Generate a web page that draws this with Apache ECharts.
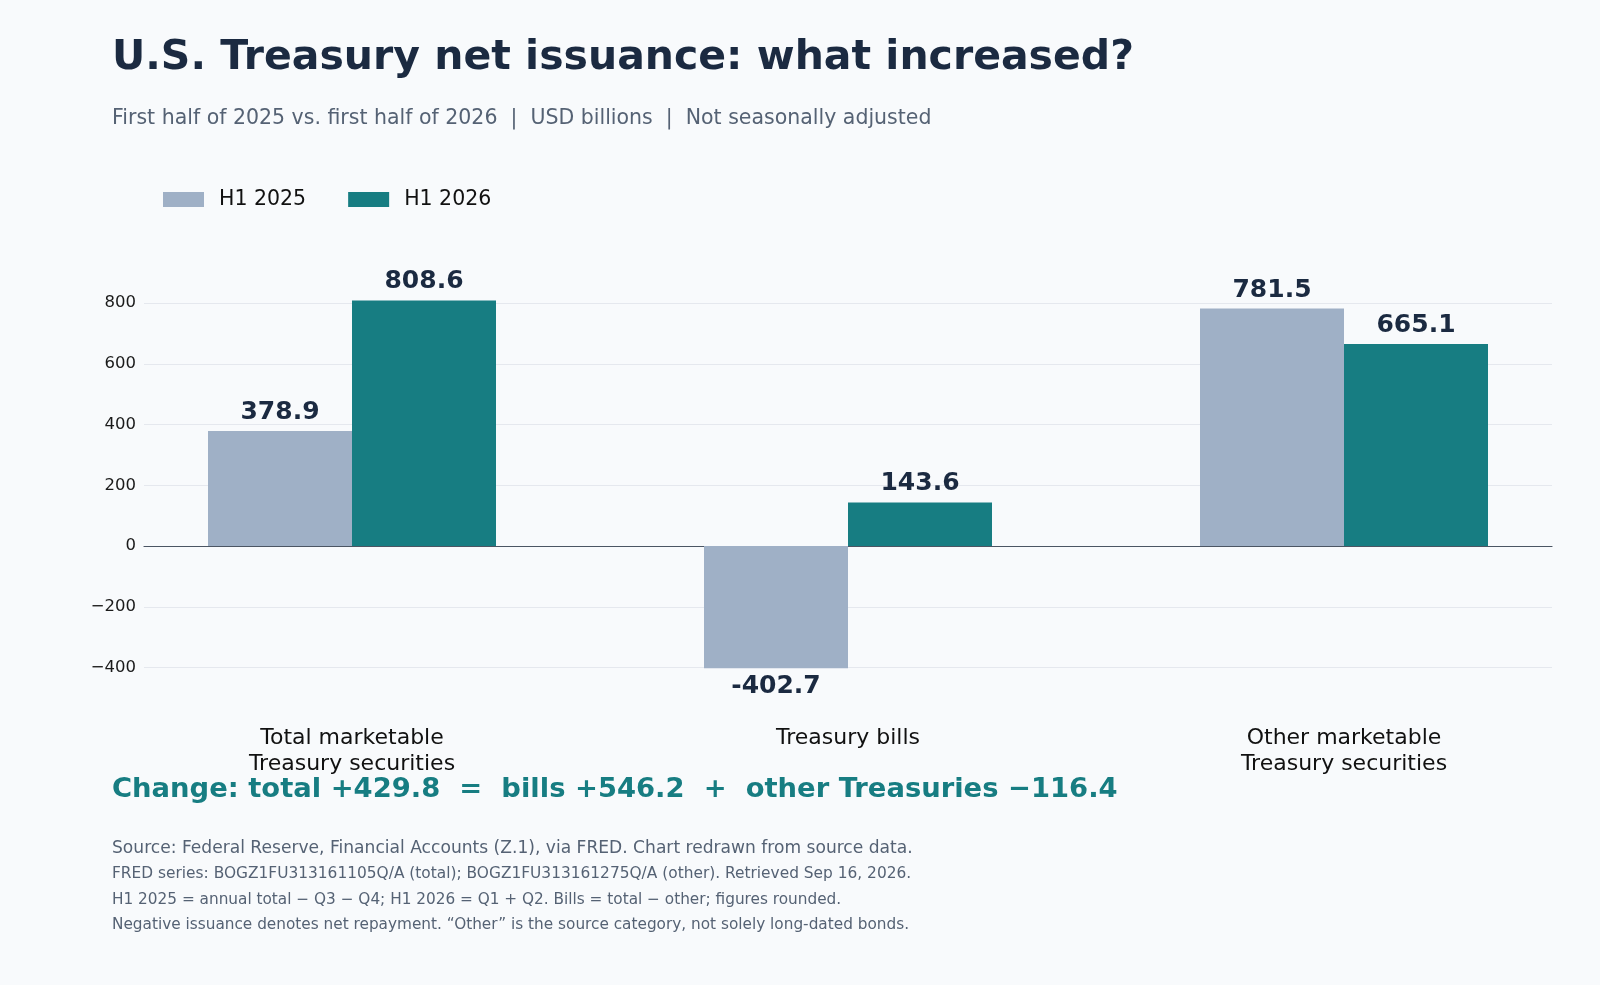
<!DOCTYPE html>
<html>
<head>
<meta charset="utf-8">
<title>U.S. Treasury net issuance</title>
<script src="https://cdn.jsdelivr.net/npm/echarts@6/dist/echarts.min.js"></script>
<style>
  html, body { margin: 0; padding: 0; background: #f8fafc; }
  #chart { width: 1600px; height: 985px; }
</style>
</head>
<body>
<div id="chart"></div>
<script>
// data (USD billions)
const categories = ['Total marketable\nTreasury securities', 'Treasury bills', 'Other marketable\nTreasury securities'];
const h1_2025 = [378.9, -402.7, 781.5];
const h1_2026 = [808.6, 143.6, 665.1];
const seriesNames = ['H1 2025', 'H1 2026'];
const yTicks = { min: -400, max: 800, step: 200 };

const FONT = '"DejaVu Sans", sans-serif';
const NAVY = '#1b2a41';
const GREY_TXT = '#556274';
const colors = ['#9fb0c6', '#177d82'];

// negative bars get their label underneath
function withLabels(values) {
  return values.map(v => ({
    value: v,
    label: { position: v < 0 ? 'bottom' : 'top' }
  }))
}

const chart = echarts.init(document.getElementById('chart'), null, { renderer: 'canvas' });

const footer = [
  { text: 'Source: Federal Reserve, Financial Accounts (Z.1), via FRED. Chart redrawn from source data.', size: 17.1, y: 850.5 },
  { text: 'FRED series: BOGZ1FU313161105Q/A (total); BOGZ1FU313161275Q/A (other). Retrieved Sep 16, 2026.', size: 15.4, y: 875.5 },
  { text: 'H1 2025 = annual total \u2212 Q3 \u2212 Q4; H1 2026 = Q1 + Q2. Bills = total \u2212 other; figures rounded.', size: 15.3, y: 901.5 },
  { text: 'Negative issuance denotes net repayment. \u201cOther\u201d is the source category, not solely long-dated bonds.', size: 15.3, y: 926.5 },
];

const option = {
  backgroundColor: '#f8fafc',
  animation: false,
  textStyle: { fontFamily: FONT },
  legend: {
    data: seriesNames,
    left: 158,
    top: 184,
    icon: 'rect',
    itemWidth: 41,
    itemHeight: 15,
    itemGap: 42,
    textStyle: { fontSize: 20.5, color: '#111', fontFamily: FONT, padding: [0, 0, 0, 10] }
  },
  grid: [
    { left: 144, right: 48, top: 303, bottom: 317.5 },
    { left: 104, right: 8, top: 303, bottom: 317.5 }
  ],
  xAxis: [
    {
      gridIndex: 0, type: 'category', data: categories,
      axisLine: { onZero: true, lineStyle: { color: '#4b5563', width: 1.2 } },
      axisTick: { show: false }, axisLabel: { show: false }
    },
    {
      gridIndex: 1, type: 'category', data: categories,
      axisLine: { show: false, onZero: false }, axisTick: { show: false },
      axisLabel: { fontSize: 22, lineHeight: 26, color: '#111', margin: 58, fontFamily: FONT }
    }
  ],
  yAxis: [
    {
      gridIndex: 0, type: 'value', min: yTicks.min, max: yTicks.max, interval: yTicks.step,
      axisLine: { show: false }, axisTick: { show: false },
      axisLabel: { fontSize: 16.5, color: '#1a1a1a', margin: 8, fontFamily: FONT,
        formatter: v => String(v).replace('-', '\u2212') },
      splitLine: { lineStyle: { color: '#e5e8ee', width: 1 } }
    },
    {
      gridIndex: 1, type: 'value', min: yTicks.min, max: yTicks.max, interval: yTicks.step,
      show: false, splitLine: { show: false }
    }
  ],
  series: [h1_2025, h1_2026].map((vals, i) => ({
    name: seriesNames[i],
    type: 'bar',
    xAxisIndex: 1,
    yAxisIndex: 1,
    data: withLabels(vals),
    barWidth: 144,
    barGap: '0%',
    clip: false,
    itemStyle: { color: colors[i] },
    label: {
      show: true,
      distance: 6,
      fontSize: 25,
      fontWeight: 'bold',
      color: NAVY,
      fontFamily: FONT,
      formatter: p => p.value.toFixed(1)
    }
  })),
  graphic: [
    {
      type: 'text', left: 112, top: 38,
      style: { text: 'U.S. Treasury net issuance: what increased?', font: 'bold 41px ' + FONT, fill: NAVY }
    },
    {
      type: 'text', left: 112, top: 108,
      style: { text: 'First half of 2025 vs. first half of 2026  |  USD billions  |  Not seasonally adjusted', font: '20.5px ' + FONT, fill: GREY_TXT }
    },
    {
      type: 'text', left: 112, top: 776,
      style: { text: 'Change: total +429.8  =  bills +546.2  +  other Treasuries \u2212116.4', font: 'bold 27.4px ' + FONT, fill: '#177d82' }
    },
    ...footer.map(f => ({
      type: 'text', left: 112, top: f.y - f.size * 0.6,
      style: { text: f.text, font: f.size + 'px ' + FONT, fill: GREY_TXT }
    }))
  ]
};

chart.setOption(option);
</script>
</body>
</html>
